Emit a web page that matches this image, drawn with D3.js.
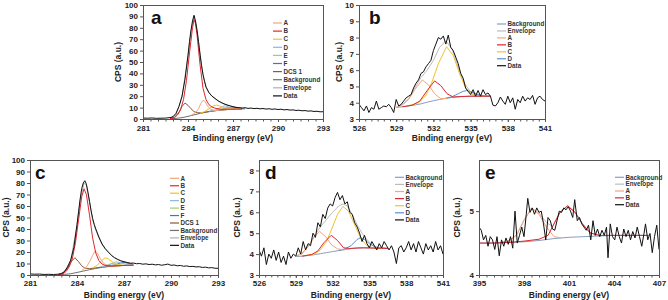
<!DOCTYPE html>
<html><head><meta charset="utf-8">
<script src="https://cdn.jsdelivr.net/npm/d3@7"></script>
<style>body{margin:0;background:#fff}svg{display:block}text{font-family:Arial,"Liberation Sans",sans-serif}</style>
</head><body>
<svg id="chart" width="668" height="300"></svg>
<script>
// ---------------- Panel a (C 1s) ----------------
const aData = [[281.0,0.8],[281.3,0.7],[281.6,0.9],[281.9,0.6],[282.2,0.7],[282.5,0.8],[282.8,1.2],[283.0,2],[283.2,5],[283.4,11],[283.6,20],[283.8,35],[284.0,56],[284.1,68],[284.2,78],[284.3,86],[284.4,91],[284.5,86],[284.6,78],[284.7,68],[284.8,57],[284.9,47],[285.0,39],[285.1,33],[285.2,28],[285.4,23],[285.6,20],[285.8,18],[286.0,16],[286.2,14.5],[286.4,13.3],[286.6,12.3],[286.8,11.5],[287.0,10.8],[287.2,10.2],[287.4,10.0],[287.6,9.6],[287.8,9.9],[288.0,9.3],[288.2,9.6],[288.4,9.1],[288.6,9.4],[288.8,8.9],[289.0,9.2],[289.2,8.7],[289.4,9.0],[289.6,8.5],[289.8,8.8],[290.0,8.3],[290.2,8.6],[290.4,8.0],[290.6,8.3],[290.8,7.8],[291.0,8.0],[291.2,7.5],[291.4,7.7],[291.6,7.2],[291.8,7.4],[292.0,6.9],[292.2,7.1],[292.4,6.6],[292.6,6.8],[292.8,6.3],[293.0,6.4]];
const aBackground = [[282.8,0.3],[283.2,0.5],[283.6,1.2],[284.0,2.3],[284.4,3.6],[284.8,4.9],[285.2,6.0],[285.6,6.9],[286.0,7.6],[286.4,8.1],[286.8,8.5],[287.2,8.7],[287.6,8.8]];
const aEnvelope = [[282.8,0.5],[283.2,4],[283.6,19],[284.0,55],[284.2,77],[284.4,90],[284.6,78],[284.8,57],[285.0,39],[285.2,28.5],[285.4,23],[285.6,20],[285.8,18],[286.0,16],[286.4,13.3],[286.8,11.5],[287.2,10.2],[287.6,9.6]];
const aA = [[284.2,3.2],[284.5,5.5],[284.7,9],[284.85,13.5],[285.0,16.5],[285.15,15],[285.3,11.5],[285.5,8.5],[285.8,7.5],[286.2,7.9],[287.0,8.6]];
const aB = [[282.8,0.3],[283.1,1.2],[283.3,3.5],[283.5,8],[283.7,17],[283.9,34],[284.1,58],[284.3,80],[284.4,87],[284.5,84],[284.6,74],[284.8,48],[285.0,27],[285.2,17],[285.4,12.5],[285.6,10.5],[285.8,9.5],[286.2,8.5],[286.8,8.6],[287.6,8.8]];
const aC = [[284.8,5],[285.1,6.5],[285.4,9],[285.7,11.5],[285.9,12.2],[286.1,11.5],[286.4,9.8],[286.7,8.9],[287.2,8.7],[287.6,8.8]];
const aD = [[285.4,6.8],[285.8,7.6],[286.1,9.5],[286.3,11],[286.5,11.5],[286.7,10.5],[287.0,9.2],[287.4,8.8]];
const aE = [[285.8,7.3],[286.2,8.5],[286.5,10],[286.7,10.3],[286.9,9.6],[287.2,8.9],[287.6,8.8]];
const aF = [[286.0,7.6],[286.4,8.6],[286.8,10],[287.0,10.4],[287.2,10],[287.5,9.1],[287.8,8.8]];
const aDCS = [[282.8,0.3],[283.1,1.5],[283.4,6],[283.6,11],[283.8,14],[284.0,12],[284.2,9],[284.4,6.5],[284.6,5.5],[284.9,5.4],[285.2,6.1],[285.6,6.9],[286.0,7.6],[286.8,8.5],[287.6,8.8]];

// ---------------- Panel b (O 1s) ----------------
const bData = [[526.0,3.9],[526.2,3.7],[526.4,3.5],[526.6,3.8],[526.8,3.4],[527.0,3.7],[527.2,3.6],[527.4,4.1],[527.6,3.6],[527.8,3.7],[528.0,3.8],[528.2,3.75],[528.4,3.9],[528.6,3.7],[528.8,3.4],[529.0,4.2],[529.2,3.8],[529.4,3.9],[529.6,4.1],[529.8,4.3],[530.0,4.4],[530.2,4.5],[530.4,4.9],[530.6,5.2],[530.8,5.4],[531.0,5.8],[531.2,5.9],[531.4,6.2],[531.6,6.4],[531.8,6.6],[532.0,7.2],[532.2,7.6],[532.4,8.0],[532.6,7.9],[532.8,8.1],[533.0,7.6],[533.2,8.15],[533.4,7.4],[533.6,7.2],[533.8,6.8],[534.0,6.4],[534.2,5.8],[534.4,5.5],[534.6,4.9],[534.8,4.7],[535.0,4.5],[535.2,4.8],[535.4,4.4],[535.6,4.75],[535.8,4.4],[536.0,4.8],[536.2,4.5],[536.4,4.6],[536.6,4.4],[536.8,3.85],[537.0,3.8],[537.2,4.0],[537.4,4.35],[537.6,4.1],[537.8,3.9],[538.0,4.4],[538.2,4.0],[538.4,4.3],[538.6,3.6],[538.8,4.2],[539.0,4.0],[539.2,4.4],[539.4,4.1],[539.6,4.3],[539.8,4.2],[540.0,4.45],[540.2,3.9],[540.4,4.3],[540.6,4.4],[540.8,4.2],[541.0,4.1]];
const bBackground = [[529.0,3.71],[529.5,3.75],[530.0,3.8],[530.5,3.86],[531.0,3.93],[531.5,4.03],[532.0,4.12],[532.5,4.2],[533.0,4.27],[533.5,4.32],[534.0,4.36],[534.5,4.38],[535.0,4.4],[535.5,4.4],[536.0,4.4],[536.6,4.4]];
const bEnvelope = [[529.0,3.72],[529.5,3.9],[530.0,4.25],[530.5,4.9],[531.0,5.55],[531.5,6.0],[532.0,6.6],[532.5,7.4],[533.0,7.8],[533.5,7.3],[534.0,6.2],[534.5,5.2],[535.0,4.65],[535.5,4.45],[536.0,4.41],[536.6,4.4]];
const bA = [[529.0,3.72],[529.5,3.85],[530.0,4.2],[530.5,4.8],[531.1,5.4],[531.6,5.1],[532.1,4.55],[532.6,4.25],[533.1,4.27]];
const bB = [[529.5,3.75],[530.3,3.85],[530.9,4.1],[531.5,4.75],[532.1,5.34],[532.6,5.05],[533.1,4.55],[533.6,4.35],[534.2,4.38],[535.0,4.4],[536.6,4.4]];
const bC = [[530.0,3.82],[530.8,4.0],[531.4,4.45],[531.9,5.3],[532.4,6.4],[533.06,7.44],[533.6,6.9],[534.1,5.8],[534.6,4.9],[535.1,4.5],[535.6,4.42],[536.2,4.4]];
const bD = [[533.0,4.27],[533.5,4.37],[534.0,4.55],[534.4,4.7],[534.7,4.75],[535.1,4.65],[535.6,4.5],[536.1,4.42],[536.6,4.4]];

// ---------------- Panel c (C 1s) ----------------
const cData = [[281.0,0.9],[281.3,0.7],[281.6,0.8],[281.9,0.5],[282.2,0.6],[282.5,0.4],[282.8,0.7],[283.0,1.2],[283.2,3],[283.4,7],[283.6,13],[283.8,24],[284.0,44],[284.1,55],[284.2,66],[284.3,75],[284.4,80],[284.5,82],[284.6,79],[284.7,72],[284.8,64],[284.9,56],[285.0,49],[285.1,44],[285.2,40],[285.4,33],[285.6,27],[285.8,23],[286.0,20],[286.2,17],[286.4,15],[286.6,13.5],[286.8,12.3],[287.0,11.5],[287.2,10.9],[287.4,10.2],[287.6,10.4],[287.8,9.8],[288.0,10.0],[288.2,9.4],[288.4,9.7],[288.6,9.1],[288.8,9.4],[289.0,8.8],[289.2,9.1],[289.4,8.5],[289.6,8.9],[289.8,9.5],[290.0,8.4],[290.2,8.7],[290.4,8.0],[290.6,8.3],[290.8,7.6],[291.0,7.9],[291.2,7.3],[291.4,7.5],[291.6,7.0],[291.8,7.2],[292.0,6.6],[292.2,6.8],[292.4,6.2],[292.6,6.4],[292.8,5.9],[293.0,5.8]];
const cBackground = [[282.8,0.3],[283.2,0.5],[283.6,1.1],[284.0,2.2],[284.4,3.4],[284.8,4.6],[285.2,5.7],[285.6,6.6],[286.0,7.3],[286.4,7.8],[286.8,8.2],[287.2,8.4],[287.6,8.5]];
const cEnvelope = [[282.8,0.5],[283.2,2.8],[283.6,12.5],[284.0,43],[284.2,65],[284.45,80],[284.6,78],[284.8,63],[285.0,48],[285.2,39],[285.4,32],[285.6,26.5],[285.8,22.5],[286.0,19.5],[286.4,15],[286.8,12.3],[287.2,10.8],[287.6,9.8]];
const cA = [[284.3,3.8],[284.6,7],[284.8,11.5],[285.0,17],[285.15,21],[285.3,19],[285.5,14],[285.7,10],[286.0,8],[286.4,7.9],[287.0,8.3]];
const cB = [[282.8,0.3],[283.1,1],[283.3,3],[283.5,7],[283.7,14],[283.9,28],[284.1,48],[284.3,68],[284.45,75],[284.6,70],[284.8,52],[285.0,32],[285.2,19],[285.4,12.5],[285.6,9.5],[285.8,8.3],[286.2,7.8],[286.8,8.2],[287.6,8.5]];
const cC = [[285.0,6.3],[285.3,8.5],[285.6,13],[285.8,15],[286.0,14],[286.3,11],[286.6,9],[287.0,8.4],[287.6,8.5]];
const cD = [[285.6,7],[286.0,8.2],[286.3,10.5],[286.5,11.5],[286.8,10.5],[287.2,9],[287.6,8.5]];
const cE = [[285.5,7],[285.9,8.5],[286.2,10],[286.5,9.3],[286.9,8.5]];
const cF = [[285.9,7.6],[286.4,8.8],[286.8,10.5],[287.0,11],[287.3,10],[287.6,8.8]];
const cDCS = [[282.8,0.3],[283.1,1.5],[283.4,6],[283.65,12],[283.87,15],[284.1,11.5],[284.3,8],[284.5,6],[284.8,5.5],[285.2,6.2],[285.6,7],[286.2,7.8],[287.0,8.3],[287.6,8.5]];

// ---------------- Panel d (O 1s) ----------------
const dData = [[526.0,4.2],[526.2,3.9],[526.4,4.3],[526.6,3.5],[526.8,4.0],[527.0,3.8],[527.2,4.2],[527.4,3.7],[527.6,4.1],[527.8,3.6],[528.0,3.9],[528.2,3.5],[528.4,4.1],[528.6,3.8],[528.8,4.0],[529.0,3.9],[529.2,4.3],[529.4,4.0],[529.6,4.6],[529.8,4.2],[530.0,4.5],[530.2,4.4],[530.4,5.0],[530.6,4.8],[530.8,5.5],[531.0,5.3],[531.2,5.9],[531.4,5.7],[531.6,6.2],[531.8,6.4],[532.0,6.3],[532.2,6.7],[532.4,6.95],[532.6,6.6],[532.8,6.8],[533.0,6.4],[533.2,6.5],[533.4,6.0],[533.6,5.9],[533.8,5.5],[534.0,5.3],[534.2,5.0],[534.4,4.6],[534.6,4.9],[534.8,4.5],[535.0,4.3],[535.2,4.6],[535.4,4.4],[535.6,4.2],[535.8,4.5],[536.0,4.3],[536.2,4.6],[536.4,4.4],[536.6,4.2],[536.8,4.4],[537.0,4.1],[537.2,3.55],[537.4,4.3],[537.6,4.4],[537.8,4.1],[538.0,4.3],[538.2,4.6],[538.4,4.2],[538.6,4.5],[538.8,4.1],[539.0,4.6],[539.2,4.3],[539.4,4.0],[539.6,4.5],[539.8,4.2],[540.0,4.4],[540.2,4.1],[540.4,4.6],[540.6,4.2],[540.8,4.4],[541.0,4.0]];
const dBackground = [[529.0,3.88],[529.5,3.9],[530.0,3.93],[530.5,3.97],[531.0,4.02],[531.5,4.07],[532.0,4.12],[532.5,4.17],[533.0,4.22],[533.5,4.26],[534.0,4.29],[534.5,4.3],[535.0,4.3],[535.5,4.29],[536.0,4.28],[536.5,4.27]];
const dEnvelope = [[529.0,3.9],[529.5,4.0],[530.0,4.35],[530.5,4.85],[531.0,5.3],[531.5,5.65],[532.0,6.0],[532.5,6.3],[532.84,6.4],[533.2,6.3],[533.6,5.9],[534.0,5.4],[534.4,5.0],[534.8,4.7],[535.2,4.45],[535.6,4.33],[536.0,4.3],[536.5,4.27]];
const dA = [[529.0,3.9],[529.5,4.05],[530.0,4.35],[530.5,4.8],[530.93,5.09],[531.4,4.85],[531.9,4.45],[532.4,4.25],[532.9,4.2],[533.4,4.25]];
const dB = [[529.5,3.9],[530.3,3.98],[530.8,4.15],[531.3,4.55],[531.89,4.9],[532.4,4.65],[532.9,4.3],[533.4,4.27],[534.0,4.29],[534.5,4.3],[535.0,4.29],[536.0,4.28],[536.5,4.27]];
const dC = [[529.8,3.93],[530.5,4.0],[531.0,4.2],[531.5,4.6],[532.0,5.3],[532.4,5.9],[532.84,6.28],[533.3,6.05],[533.8,5.4],[534.3,4.75],[534.8,4.4],[535.3,4.3],[536.0,4.28]];
const dD = [[532.5,4.17],[533.0,4.25],[533.5,4.4],[534.0,4.7],[534.26,4.78],[534.6,4.7],[535.0,4.5],[535.5,4.33],[536.0,4.29],[536.5,4.27]];

// ---------------- Panel e (N 1s) ----------------
const eData = [[395.0,4.75],[395.15,4.7],[395.3,4.55],[395.45,4.62],[395.6,4.45],[395.75,4.6],[395.9,4.55],[396.05,4.4],[396.2,4.6],[396.35,4.3],[396.5,4.55],[396.65,4.45],[396.8,4.58],[396.95,4.48],[397.1,4.6],[397.25,4.42],[397.4,5.0],[397.55,4.5],[397.7,4.62],[397.85,4.75],[398.0,4.6],[398.15,4.95],[398.25,5.2],[398.4,4.98],[398.55,5.05],[398.7,4.95],[398.85,5.05],[399.0,4.98],[399.15,5.0],[399.3,4.8],[399.45,4.55],[399.6,4.9],[399.75,4.85],[399.9,4.72],[400.05,4.7],[400.2,4.85],[400.35,5.0],[400.5,4.98],[400.65,5.05],[400.8,5.02],[400.95,5.07],[401.1,5.0],[401.25,4.9],[401.38,5.18],[401.55,4.85],[401.7,4.9],[401.85,4.8],[402.0,4.75],[402.15,4.7],[402.3,4.78],[402.45,4.55],[402.6,4.85],[402.75,4.62],[402.9,4.72],[403.05,4.6],[403.2,4.7],[403.35,4.62],[403.5,4.75],[403.6,4.27],[403.75,4.8],[403.9,4.6],[404.05,4.55],[404.2,4.75],[404.35,4.6],[404.5,4.5],[404.65,4.72],[404.8,4.6],[404.95,4.7],[405.1,4.55],[405.25,4.68],[405.4,4.58],[405.55,4.75],[405.7,4.6],[405.85,4.45],[406.0,4.65],[406.1,4.8],[406.25,4.55],[406.4,4.65],[406.55,4.35],[406.7,4.6],[406.85,4.78],[407.0,4.4]];
const eBackground = [[395.0,4.5],[396.0,4.5],[397.0,4.51],[398.0,4.52],[399.0,4.54],[400.0,4.57],[401.0,4.59],[402.0,4.6],[403.0,4.61],[404.0,4.62],[405.0,4.62],[406.3,4.62]];
const eEnvelope = [[396.5,4.51],[397.0,4.54],[397.5,4.63],[398.0,4.86],[398.5,5.05],[399.0,4.97],[399.5,4.82],[399.9,4.76],[400.4,4.98],[400.9,5.09],[401.4,4.99],[401.9,4.8],[402.4,4.66],[403.0,4.62]];
const eA = [[396.5,4.51],[397.0,4.53],[397.5,4.62],[398.0,4.85],[398.5,5.04],[399.0,4.95],[399.5,4.75],[400.0,4.6],[400.5,4.58]];
const eB = [[395.0,4.5],[396.0,4.5],[397.0,4.51],[398.0,4.53],[399.0,4.56],[399.6,4.62],[400.0,4.8],[400.4,4.98],[400.9,5.08],[401.4,4.98],[401.9,4.8],[402.4,4.66],[403.0,4.62],[404.0,4.62],[405.0,4.62],[406.3,4.62]];

// tick labels
const ticksC1s = [281, 284, 287, 290, 293];
const ticksO1s = [526, 529, 532, 535, 538, 541];
const ticksN1s = [395, 398, 401, 404, 407];
const yTicksAC = [0,10,20,30,40,50,60,70,80,90,100];
const yTicksB = [3,4,5,6,7,8,9,10];
const yTicksD = [3,4,5,6,7,8];
const yTicksE = [4,5];

const COL = {
  "A":"#f4a57c","B":"#e0262c","C":"#f2c12e","D":"#8db6e0","E":"#a8cb72","F":"#4a72b8",
  "DCS 1":"#8b5a3a","Background":"#707070","Envelope":"#b0b0b0","Data":"#111111"
};
const COL2 = {"Background":"#8a9fc0","Envelope":"#bcbcbc","A":"#f4a57c","B":"#e0262c","C":"#f2c12e","D":"#5b8fd0","Data":"#111111"};

const panels = [
  {label:"a", box:[143,5,323,119], xd:[281,293], yd:[0,100], xt:ticksC1s, yt:yTicksAC, colors:COL,
   series:{"Background":aBackground,"Envelope":aEnvelope,"A":aA,"B":aB,"C":aC,"D":aD,"E":aE,"F":aF,"DCS 1":aDCS,"Data":aData},
   legend:["A","B","C","D","E","F","DCS 1","Background","Envelope","Data"], leg:[273,23,8.1], letterDx:8, ytitleX:118, xtitleY:141, pad:3},
  {label:"b", box:[359,5,545,119], xd:[526,541], yd:[3,10], xt:ticksO1s, yt:yTicksB, colors:COL2,
   series:{"Background":bBackground,"Envelope":bEnvelope,"A":bA,"B":bB,"C":bC,"D":bD,"Data":bData},
   legend:["Background","Envelope","A","B","C","D","Data"], leg:[497,24,6.95], letterDx:10, ytitleX:339, xtitleY:141, pad:3},
  {label:"c", box:[30,160,218,275], xd:[281,293], yd:[0,100], xt:ticksC1s, yt:yTicksAC, colors:COL,
   series:{"Background":cBackground,"Envelope":cEnvelope,"A":cA,"B":cB,"C":cC,"D":cD,"E":cE,"F":cF,"DCS 1":cDCS,"Data":cData},
   legend:["A","B","C","D","E","F","DCS 1","Background","Envelope","Data"], leg:[170,178.3,7.45], letterDx:5, ytitleX:6, xtitleY:298, pad:2.5},
  {label:"d", box:[259,160,443,275], xd:[526,541], yd:[3,8.5], xt:ticksO1s, yt:yTicksD, colors:COL2,
   series:{"Background":dBackground,"Envelope":dEnvelope,"A":dA,"B":dB,"C":dC,"D":dD,"Data":dData},
   legend:["Background","Envelope","A","B","C","D","Data"], leg:[395,177.3,7.1], letterDx:6, ytitleX:237, xtitleY:298, pad:2.5},
  {label:"e", box:[479,160,659,275], xd:[395,407], yd:[4,5.8], xt:ticksN1s, yt:yTicksE, colors:COL2,
   series:{"Background":eBackground,"Envelope":eEnvelope,"A":eA,"B":eB,"Data":eData},
   legend:["Background","Envelope","A","B","Data"], leg:[615,177.3,6.85], letterDx:6, ytitleX:457, xtitleY:298, pad:2.5}
];

const svg = d3.select("#chart");
const drawOrder = ["Background","Envelope","DCS 1","F","E","D","C","A","B","Data"];

panels.forEach(p => {
  const [L,T,R,B] = p.box;
  const x = d3.scaleLinear().domain(p.xd).range([L,R]);
  const y = d3.scaleLinear().domain(p.yd).range([B,T]);
  const g = svg.append("g");
  const clipId = "clip-" + p.label;
  svg.append("clipPath").attr("id", clipId).append("rect").attr("x",L).attr("y",T).attr("width",R-L).attr("height",B-T);

  const minor = d3.range(p.xd[0], p.xd[1]+0.001, 0.5);
  g.append("g").attr("transform",`translate(0,${B})`)
    .call(d3.axisBottom(x).tickValues(minor).tickSize(2.5).tickFormat(""))
    .call(s=>{s.select(".domain").remove(); s.selectAll("line").attr("stroke","#555");});
  g.append("g").attr("transform",`translate(0,${B})`)
    .call(d3.axisBottom(x).tickValues(p.xt).tickSize(3).tickPadding(p.pad).tickFormat(d3.format("d")))
    .call(s=>{s.select(".domain").remove(); s.selectAll("line").attr("stroke","#555");
      s.selectAll("text").attr("font-size","8px").attr("font-weight","bold").attr("fill","#222").attr("font-family","Arial, 'Liberation Sans', sans-serif");});
  g.append("g").attr("transform",`translate(${L},0)`)
    .call(d3.axisLeft(y).tickValues(p.yt).tickSize(3).tickPadding(2).tickFormat(d3.format("d")))
    .call(s=>{s.select(".domain").remove(); s.selectAll("line").attr("stroke","#555");
      s.selectAll("text").attr("font-size","8px").attr("font-weight","bold").attr("fill","#222").attr("font-family","Arial, 'Liberation Sans', sans-serif");});

  const line = d3.line().x(d=>x(d[0])).y(d=>y(d[1]));
  const pg = g.append("g").attr("clip-path",`url(#${clipId})`);
  drawOrder.forEach(name => {
    const data = p.series[name];
    if (!data) return;
    pg.append("path").datum(data).attr("d", line).attr("fill","none")
      .attr("stroke", p.colors[name]).attr("stroke-width", 1)
      .attr("stroke-linejoin","round");
  });

  g.append("rect").attr("x",L+0.5).attr("y",T+0.5).attr("width",R-L).attr("height",B-T)
    .attr("fill","none").attr("stroke","#555").attr("stroke-width",1);

  g.append("text").attr("x",L+p.letterDx).attr("y",T+19).text(p.label)
    .attr("font-size","19px").attr("font-weight","bold").attr("fill","#111");

  g.append("text").attr("x",(L+R)/2).attr("y",p.xtitleY).attr("text-anchor","middle")
    .attr("font-size","8.5px").attr("font-weight","bold").attr("fill","#222").text("Binding energy (eV)");
  g.append("text").attr("transform",`translate(${p.ytitleX},${(T+B)/2}) rotate(-90)`)
    .attr("text-anchor","middle").attr("dy","0.35em")
    .attr("font-size","8.5px").attr("font-weight","bold").attr("fill","#222").text("CPS (a.u.)");

  const [lx, ly, ls] = p.leg;
  p.legend.forEach((name,i) => {
    const yy = ly + i*ls;
    g.append("line").attr("x1",lx).attr("x2",lx+9).attr("y1",yy).attr("y2",yy)
      .attr("stroke",p.colors[name]).attr("stroke-width",1.2);
    g.append("text").attr("x",lx+10.5).attr("y",yy).attr("dy","0.35em")
      .attr("font-size","6.3px").attr("font-weight","bold").attr("fill","#333").text(name);
  });
});
</script>
</body></html>
